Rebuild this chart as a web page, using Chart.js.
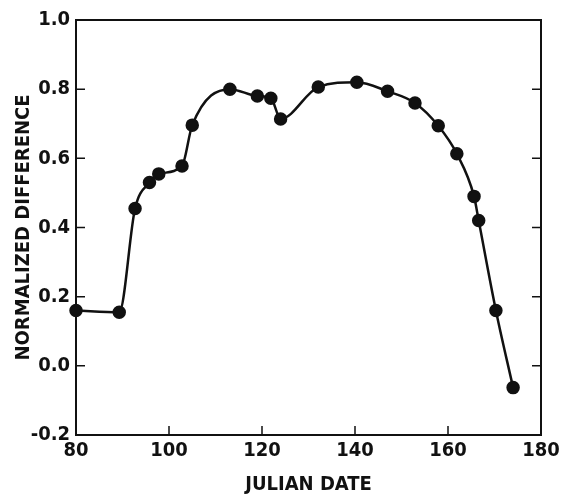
<!DOCTYPE html>
<html>
<head>
<meta charset="utf-8">
<script src="https://cdn.jsdelivr.net/npm/chart.js@4"></script>
<style>
  html, body { margin: 0; padding: 0; background: #fff; }
  #wrap { width: 566px; height: 497px; }
</style>
</head>
<body>
<div id="wrap"><canvas id="chart" width="566" height="497"></canvas></div>
<script>
// values
const julianDays = [80, 89.3, 92.7, 95.8, 97.8, 102.8, 105, 113.1, 119, 121.9, 124,
                    132.1, 140.4, 147, 152.9, 157.9, 161.9, 165.6, 166.6, 170.3, 174];
const normDiff = [0.16, 0.155, 0.455, 0.53, 0.555, 0.578, 0.696, 0.80, 0.78, 0.774, 0.714,
                  0.806, 0.82, 0.794, 0.76, 0.694, 0.613, 0.49, 0.42, 0.16, -0.063];
const xTicks = [80, 100, 120, 140, 160, 180];
const yTicks = [-0.2, 0.0, 0.2, 0.4, 0.6, 0.8, 1.0];

const FONT = "'Liberation Sans Narrow', 'DejaVu Sans Condensed', 'Liberation Sans', sans-serif";
const INK = '#111';

// frame on top/right plus inward tick marks on all sides
const frameAndTicks = {
    id: 'frameAndTicks',
    afterDraw(chart) {
        const { ctx, chartArea: a, scales } = chart;
        const len = 9;
        ctx.save();
        ctx.strokeStyle = INK;
        ctx.lineWidth = 2;
        ctx.beginPath();
        ctx.moveTo(a.left, a.top);
        ctx.lineTo(a.right, a.top);
        ctx.lineTo(a.right, a.bottom);
        ctx.stroke();

        ctx.lineWidth = 1.5;
        ctx.beginPath();
        xTicks.slice(1, -1).forEach(v => {
            const px = scales.x.getPixelForValue(v);
            ctx.moveTo(px, a.bottom);
            ctx.lineTo(px, a.bottom - len);
        });
        yTicks.slice(1, -1).forEach(v => {
            const py = scales.y.getPixelForValue(v);
            ctx.moveTo(a.left, py);
            ctx.lineTo(a.left + len, py);
            ctx.moveTo(a.right, py);
            ctx.lineTo(a.right - len, py);
        });
        ctx.stroke();
        ctx.restore();
    }
};

new Chart(document.getElementById('chart'), {
    type: 'line',
    data: {
        datasets: [{
            data: julianDays.map((d, i) => ({ x: d, y: normDiff[i] })),
            borderColor: INK,
            borderWidth: 2.5,
            backgroundColor: INK,
            pointBackgroundColor: INK,
            pointBorderColor: INK,
            pointRadius: 5.5,
            cubicInterpolationMode: 'monotone',
            clip: false
        }]
    },
    options: {
        responsive: false,
        animation: false,
        events: [],
        layout: { padding: { top: 20, right: 25, left: 0, bottom: 0 } },
        plugins: { legend: { display: false }, tooltip: { enabled: false } },
        scales: {
            x: {
                type: 'linear',
                min: 80,
                max: 180,
                afterFit(scale) { scale.height = 62; },
                afterBuildTicks(scale) { scale.ticks = xTicks.map(v => ({ value: v })); },
                grid: { display: false, drawTicks: false },
                border: { display: true, color: INK, width: 2 },
                ticks: {
                    color: INK,
                    padding: 4,
                    maxRotation: 0,
                    font: { family: FONT, size: 20, weight: 'bold' },
                    callback: v => String(v)
                },
                title: {
                    display: true,
                    text: 'JULIAN DATE',
                    color: INK,
                    padding: { top: 0, bottom: 0 },
                    font: { family: FONT, size: 20, weight: 'bold' }
                }
            },
            y: {
                min: -0.2,
                max: 1.0,
                afterFit(scale) { scale.width = 76; },
                afterBuildTicks(scale) { scale.ticks = yTicks.map(v => ({ value: v })); },
                grid: { display: false, drawTicks: false },
                border: { display: true, color: INK, width: 2 },
                ticks: {
                    color: INK,
                    padding: 6,
                    font: { family: FONT, size: 20, weight: 'bold' },
                    callback: v => v.toFixed(1)
                },
                title: {
                    display: true,
                    text: 'NORMALIZED DIFFERENCE',
                    color: INK,
                    padding: { top: 12, bottom: 0 },
                    font: { family: FONT, size: 20, weight: 'bold' }
                }
            }
        }
    },
    plugins: [frameAndTicks]
});
</script>
</body>
</html>
